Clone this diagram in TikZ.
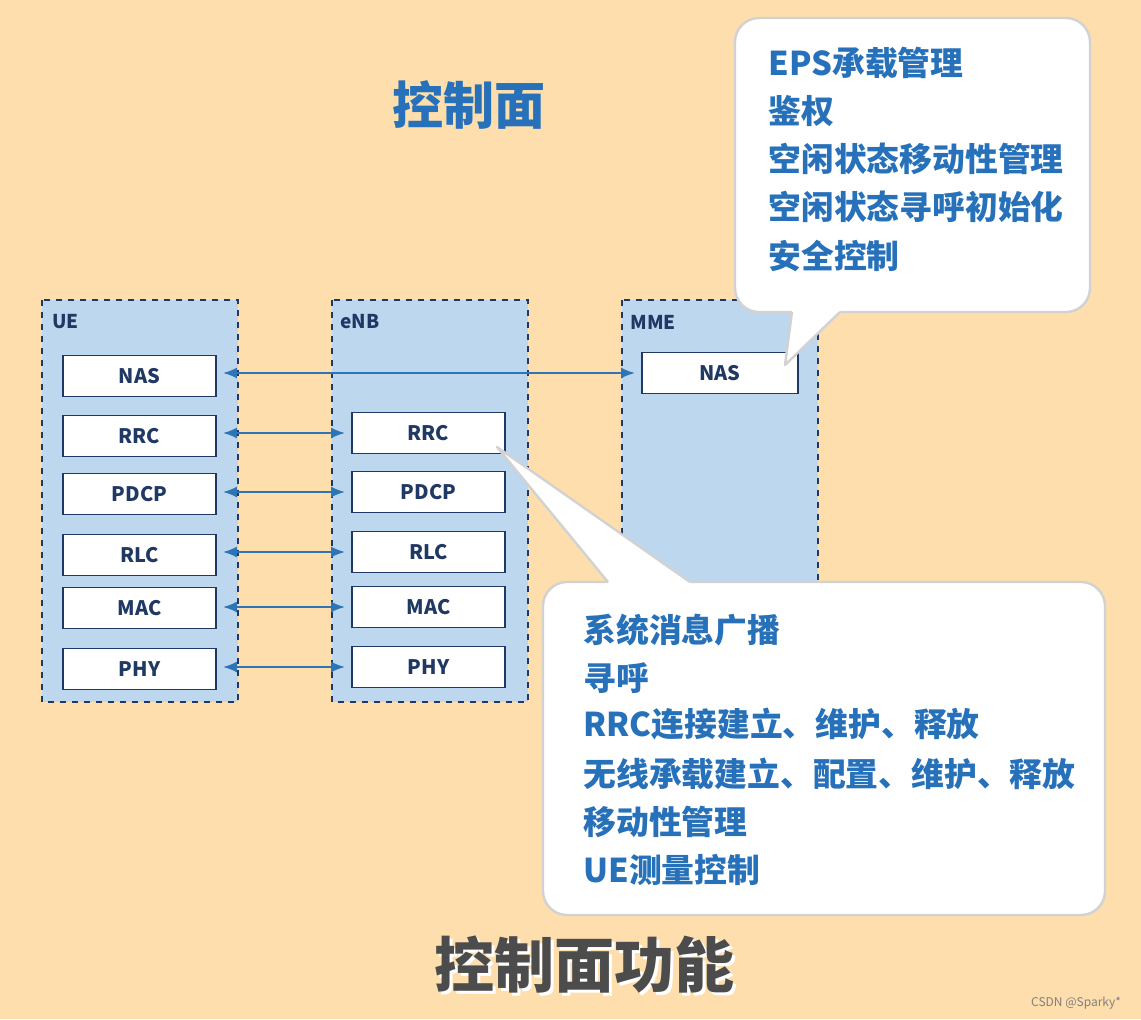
\documentclass[tikz,border=0pt]{standalone}
\usepackage{fontspec}
\setmainfont{Noto Sans CJK SC}
\newfontfamily\cjk{Noto Sans CJK SC}
\usetikzlibrary{arrows.meta}
\definecolor{bgc}{RGB}{253,222,172}
\definecolor{boxblue}{RGB}{189,215,238}
\definecolor{txtblue}{RGB}{38,113,185}
\definecolor{arrblue}{RGB}{46,117,182}
\definecolor{labc}{RGB}{31,56,100}
\tikzset{
  stack/.style={draw=labc, dashed, line width=1pt, fill=boxblue},
  layer/.style={draw=labc, line width=0.9pt, fill=white, minimum width=76.5pt, minimum height=20.5pt, inner sep=0pt, font=\cjk\bfseries\fontsize{10}{12}\selectfont, text=labc},
  stlabel/.style={anchor=west, inner sep=0pt, font=\cjk\bfseries\fontsize{9.5}{11}\selectfont, text=labc},
  conn/.style={{Latex[length=7pt,width=5.5pt]}-{Latex[length=7pt,width=5.5pt]}, draw=arrblue, line width=1.1pt},
  callout/.style={fill=white, draw=gray!35, line width=1.2pt, rounded corners=12pt},
  ctext/.style={anchor=west, inner sep=0pt, font=\cjk\bfseries\fontsize{16.4}{19}\selectfont, text=txtblue},
}
\begin{document}
\begin{tikzpicture}[x=0.5pt,y=-0.5pt]
\fill[bgc] (0,0) rectangle (1141,1019);
\useasboundingbox (0,0) rectangle (1141,1019);
\node[font=\cjk\bfseries\fontsize{25.5}{30}\selectfont, text=txtblue] (title) at (469,105) {控制面};
% stacks
\draw[stack] (42,300) rectangle (238,702);
\draw[stack] (332,300) rectangle (528,702);
\draw[stack] (622,300) rectangle (818,702);
\node[stlabel] (lue) at (52,322) {UE};
\node[stlabel] (lenb) at (340,322) {eNB};
\node[stlabel] (lmme) at (630,322) {MME};
% UE layers
\node[layer] (uNAS) at (139.5,376) {NAS};
\node[layer] (uRRC) at (139.5,436) {RRC};
\node[layer] (uPDCP) at (139.5,494) {PDCP};
\node[layer] (uRLC) at (139.5,555) {RLC};
\node[layer] (uMAC) at (139.5,608) {MAC};
\node[layer] (uPHY) at (139.5,669) {PHY};
% eNB layers
\node[layer] (eRRC) at (428.5,433) {RRC};
\node[layer] (ePDCP) at (428.5,492) {PDCP};
\node[layer] (eRLC) at (428.5,552) {RLC};
\node[layer] (eMAC) at (428.5,607) {MAC};
\node[layer] (ePHY) at (428.5,667) {PHY};
% MME
\node[layer, minimum width=78pt] (mNAS) at (720,373) {NAS};
% connectors
\draw[conn] ([xshift=3pt]mNAS.west -| uNAS.east) -- ([xshift=-3pt]mNAS.west);
\draw[conn] ([xshift=3pt]eRRC.west -| uRRC.east) -- ([xshift=-3pt]eRRC.west);
\draw[conn] ([xshift=3pt]ePDCP.west -| uPDCP.east) -- ([xshift=-3pt]ePDCP.west);
\draw[conn] ([xshift=3pt]eRLC.west -| uRLC.east) -- ([xshift=-3pt]eRLC.west);
\draw[conn] ([xshift=3pt]eMAC.west -| uMAC.east) -- ([xshift=-3pt]eMAC.west);
\draw[conn] ([xshift=3pt]ePHY.west -| uPHY.east) -- ([xshift=-3pt]ePHY.west);
% callout 1
\draw[callout] (735,18) rectangle (1090,312);
\coordinate (t1) at (785,365);
\fill[white] (792,312) -- (t1) -- (840,312) -- (840,300) -- (792,300) -- cycle;
\draw[gray!35, line width=1.2pt, line join=round] (792,312) -- (t1) -- (840,312);
\node[ctext] (a1) at (768,63) {EPS承载管理};
\node[ctext] (a2) at (768,111) {鉴权};
\node[ctext] (a3) at (768,159) {空闲状态移动性管理};
\node[ctext] (a4) at (768,207) {空闲状态寻呼初始化};
\node[ctext] (a5) at (768,256) {安全控制};
% callout 2
\draw[callout] (543,582) rectangle (1105,915);
\coordinate (t2) at (497,447);
\fill[white] (608,582) -- (t2) -- (690,582) -- (690,594) -- (608,594) -- cycle;
\draw[gray!35, line width=1.2pt, line join=round] (608,582) -- (t2) -- (690,582);
\node[ctext] (b1) at (583,630) {系统消息广播};
\node[ctext] (b2) at (583,678) {寻呼};
\node[ctext] (b3) at (583,724) {RRC连接建立、维护、释放};
\node[ctext] (b4) at (583,774) {无线承载建立、配置、维护、释放};
\node[ctext] (b5) at (583,822) {移动性管理};
\node[ctext] (b6) at (583,870) {UE测量控制};
% caption
\node[font=\cjk\bfseries\fontsize{30}{34}\selectfont, text=white] (capsh) at (587,968) {控制面功能};
\node[font=\cjk\bfseries\fontsize{30}{34}\selectfont, text=black!70] (cap) at (584,965) {控制面功能};
\node[anchor=east, font=\cjk\fontsize{6}{7}\selectfont, text=gray] (csdn) at (1128,1003) {CSDN @Sparky*};
\end{tikzpicture}
\end{document}
